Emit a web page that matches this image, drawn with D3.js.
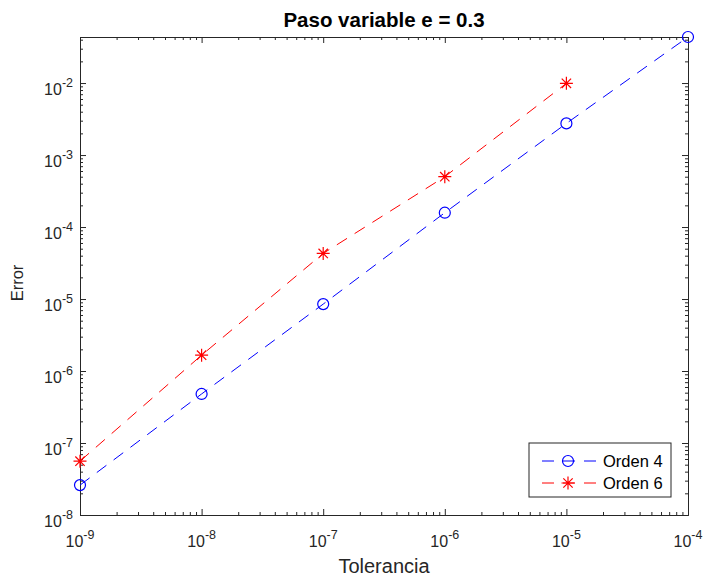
<!DOCTYPE html>
<html>
<head>
<meta charset="utf-8">
<script src="https://cdn.jsdelivr.net/npm/d3@7"></script>
<style>
  body { margin: 0; background: #fff; }
  svg { display: block; font-family: "Liberation Sans", Arial, sans-serif; }
</style>
</head>
<body>
<div id="chart"></div>
<script>
// data
const tolerancia = [1e-9, 1e-8, 1e-7, 1e-6, 1e-5, 1e-4];
const errorOrden4 = [2.6e-8, 4.8e-7, 8.5e-6, 1.58e-4, 2.75e-3, 4.36e-2];
const errorOrden6 = [5.6e-8, 1.66e-6, 4.3e-5, 5.0e-4, 9.9e-3];
const xDecades = [-9, -8, -7, -6, -5, -4];
const yDecades = [-8, -7, -6, -5, -4, -3, -2];

const W = 705, H = 576;
const margin = { top: 37, right: 17, bottom: 61, left: 80 };
const width = W - margin.left - margin.right;
const height = H - margin.top - margin.bottom;

const svg = d3.select("#chart").append("svg")
    .attr("width", W).attr("height", H);
const g = svg.append("g").attr("transform", `translate(${margin.left},${margin.top})`);

const x = d3.scaleLog().domain([1e-9, 1e-4]).range([0, width]);
const y = d3.scaleLog().domain([1e-8, 4.36e-2]).range([height, 0]);

// minor ticks 2..9 of each decade inside the domain
function minors(scale) {
    const [a, b] = scale.domain();
    const out = [];
    for (let e = Math.floor(Math.log10(a)); e <= Math.ceil(Math.log10(b)); e++) {
        for (let k = 2; k <= 9; k++) {
            const v = k * Math.pow(10, e);
            if (v > a && v < b) out.push(v);
        }
    }
    return out;
}

const majorX = xDecades.map(e => Math.pow(10, e));
const majorY = yDecades.map(e => Math.pow(10, e));
const axisColor = "#262626";

function drawAxis(axisFn, scale, transform, ticks, size) {
    const a = g.append("g")
        .attr("transform", transform)
        .call(axisFn(scale).tickValues(ticks).tickSize(size).tickSizeOuter(0).tickFormat(""));
    a.selectAll("path").attr("stroke", axisColor).attr("stroke-width", 1);
    a.selectAll("line").attr("stroke", axisColor).attr("stroke-width", 1);
    return a;
}

// bottom / top
drawAxis(d3.axisBottom, x, `translate(0,${height})`, majorX, -6);
drawAxis(d3.axisBottom, x, `translate(0,${height})`, minors(x), -3);
drawAxis(d3.axisTop, x, "translate(0,0)", majorX, -6);
drawAxis(d3.axisTop, x, "translate(0,0)", minors(x), -3);
// left / right
drawAxis(d3.axisLeft, y, "translate(0,0)", majorY, -6);
drawAxis(d3.axisLeft, y, "translate(0,0)", minors(y), -3);
drawAxis(d3.axisRight, y, `translate(${width},0)`, majorY, -6);
drawAxis(d3.axisRight, y, `translate(${width},0)`, minors(y), -3);

// tick labels with superscripts
xDecades.forEach(e => {
    const t = g.append("text")
        .attr("x", x(Math.pow(10, e)))
        .attr("y", height + 32)
        .attr("text-anchor", "middle")
        .attr("fill", axisColor)
        .style("font-size", "16px");
    t.append("tspan").text("10");
    t.append("tspan").attr("dy", -8).style("font-size", "12.5px").text(e);
});
yDecades.forEach(e => {
    const t = g.append("text")
        .attr("x", -7)
        .attr("y", y(Math.pow(10, e)) + 12)
        .attr("text-anchor", "end")
        .attr("fill", axisColor)
        .style("font-size", "16px");
    t.append("tspan").text("10");
    t.append("tspan").attr("dy", -8).style("font-size", "12.5px").text(e);
});

// titles
svg.append("text")
    .attr("x", margin.left + width / 2)
    .attr("y", 27)
    .attr("text-anchor", "middle")
    .style("font-size", "20.5px")
    .style("font-weight", "bold")
    .attr("fill", "#000")
    .text("Paso variable e = 0.3");

svg.append("text")
    .attr("x", margin.left + width / 2)
    .attr("y", 573)
    .attr("text-anchor", "middle")
    .style("font-size", "20px")
    .attr("fill", axisColor)
    .text("Tolerancia");

svg.append("text")
    .attr("transform", "translate(23,283) rotate(-90)")
    .attr("text-anchor", "middle")
    .style("font-size", "16.5px")
    .attr("fill", axisColor)
    .text("Error");

// series
const series = [
    { name: "Orden 4", values: errorOrden4, color: "#0000ff", marker: "circle" },
    { name: "Orden 6", values: errorOrden6, color: "#ff0000", marker: "star" }
];

const line = d3.line()
    .x((d, i) => x(tolerancia[i]))
    .y(d => y(d));

function drawMarker(sel, type, color) {
    if (type === "circle") {
        sel.append("circle").attr("r", 5.5)
            .attr("fill", "none").attr("stroke", color).attr("stroke-width", 1.2);
    } else {
        const r = 6.5;
        const d = r * 0.72;
        const p = `M${-r},0L${r},0M0,${-r}L0,${r}M${-d},${-d}L${d},${d}M${-d},${d}L${d},${-d}`;
        sel.append("path").attr("d", p)
            .attr("fill", "none").attr("stroke", color).attr("stroke-width", 1.2);
    }
}

series.forEach(s => {
    g.append("path")
        .datum(s.values)
        .attr("fill", "none")
        .attr("stroke", s.color)
        .attr("stroke-width", 1)
        .attr("stroke-dasharray", "12,9")
        .attr("d", line);

    s.values.forEach((v, i) => {
        const m = g.append("g").attr("transform", `translate(${x(tolerancia[i])},${y(v)})`);
        drawMarker(m, s.marker, s.color);
    });
});

// legend
const legend = svg.append("g").attr("transform", "translate(529,443)");
legend.append("rect")
    .attr("width", 142).attr("height", 54)
    .attr("fill", "#fff").attr("stroke", axisColor).attr("stroke-width", 1);

series.forEach((s, i) => {
    const ly = 18 + i * 22;
    const row = legend.append("g").attr("transform", `translate(0,${ly})`);
    row.append("line")
        .attr("x1", 13).attr("x2", 68).attr("y1", 0).attr("y2", 0)
        .attr("stroke", s.color).attr("stroke-width", 1)
        .attr("stroke-dasharray", "12,9");
    const m = row.append("g").attr("transform", "translate(39,0)");
    drawMarker(m, s.marker, s.color);
    row.append("text")
        .attr("x", 74).attr("y", 6)
        .style("font-size", "16.5px")
        .attr("fill", "#000")
        .text(s.name);
});
</script>
</body>
</html>
